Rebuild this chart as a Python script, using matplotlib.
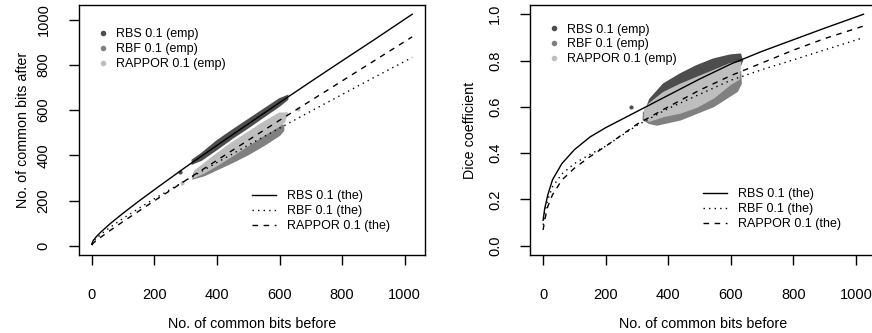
import numpy as np
from matplotlib import pyplot as plt
from matplotlib.lines import Line2D

plt.rcParams['font.family'] = ['Liberation Sans', 'DejaVu Sans']

# Colours of the three schemes (points)
col_rbs = '#4d4d4d'
col_rbf = '#808080'
col_rappor = '#bebebe'

# Theoretical curves
x_the = [0, 5, 15, 30, 60, 100, 150, 200, 300, 400, 500, 600, 700, 800, 900, 1024]

after_rbs = [8, 24, 41, 62, 99, 144, 197, 248, 348, 444, 539, 633, 726, 818, 909, 1024]
after_rbf = [3, 18, 33, 52, 83, 121, 165, 208, 289, 368, 445, 520, 595, 669, 743, 833]
after_rappor = [3, 12, 23, 39, 69, 107, 153, 199, 289, 378, 467, 555, 642, 729, 816, 924]

dice_rbs = [0.11, 0.16, 0.22, 0.285, 0.355, 0.415, 0.47, 0.51, 0.58, 0.65, 0.72,
            0.785, 0.84, 0.89, 0.94, 1.0]
dice_rbf = [0.09, 0.14, 0.20, 0.255, 0.31, 0.355, 0.395, 0.43, 0.52, 0.593, 0.654,
            0.715, 0.761, 0.803, 0.846, 0.899]
dice_rappor = [0.068, 0.11, 0.17, 0.22, 0.284, 0.335, 0.385, 0.43, 0.525, 0.60, 0.672,
               0.735, 0.79, 0.845, 0.895, 0.949]

cloud_rbs_x = [322, 350, 400, 450, 500, 550, 600, 625, 625, 600, 550, 500, 450, 400, 350, 322]
cloud_rbs_after = [378, 405, 462, 510, 556, 602, 648, 662, 648, 620, 572, 524, 478, 428, 380, 364]
cloud_rbf_x = [328, 360, 400, 450, 500, 550, 600, 612, 612, 600, 550, 500, 450, 400, 360, 325]
cloud_rbf_after = [322, 350, 385, 428, 468, 505, 538, 530, 510, 490, 445, 405, 370, 338, 312, 298]
cloud_rappor_x = [330, 360, 400, 450, 500, 550, 600, 622, 615, 600, 550, 500, 450, 400, 360, 330]
cloud_rappor_after = [330, 362, 405, 455, 500, 545, 585, 585, 548, 532, 490, 445, 400, 357, 325, 305]

dcloud_rbs_x = [326, 342, 385, 438, 491, 545, 598, 630, 636, 630, 600, 500, 400, 330]
dcloud_rbs_dice = [0.574, 0.632, 0.697, 0.74, 0.776, 0.805, 0.822, 0.826, 0.80,
                   0.78, 0.75, 0.69, 0.62, 0.57]
dcloud_rbf_x = [322, 340, 400, 450, 500, 550, 600, 630, 632, 620, 545, 438, 364, 340, 321]
dcloud_rbf_dice = [0.575, 0.585, 0.62, 0.655, 0.69, 0.72, 0.745, 0.75, 0.70,
                   0.668, 0.603, 0.545, 0.523, 0.53, 0.545]
dcloud_rappor_x = [326, 340, 385, 438, 491, 545, 598, 630, 625, 600, 545, 491, 438, 385, 340, 326]
dcloud_rappor_dice = [0.59, 0.612, 0.66, 0.695, 0.725, 0.755, 0.785, 0.79, 0.72, 0.70,
                      0.64, 0.60, 0.575, 0.56, 0.54, 0.55]

# Stray points outside the clouds
out_rbs_x = [282]
out_rbs_after = [327]
out_rbs_dice = [0.60]
out_rappor_x = [287, 614, 622, 658]
out_rappor_after = [277, 573, 582, 604]

emp_labels = ['RBS 0.1 (emp)', 'RBF 0.1 (emp)', 'RAPPOR 0.1 (emp)']
the_labels = ['RBS 0.1 (the)', 'RBF 0.1 (the)', 'RAPPOR 0.1 (the)']

'''
Figure and axes
'''

fig = plt.figure(figsize=(8.72, 3.33), dpi=100)
ax1 = fig.add_axes([79 / 872, 78 / 333, 346 / 872, 250 / 333])
ax2 = fig.add_axes([530.3 / 872, 78 / 333, 346 / 872, 250 / 333])


def draw_clouds(ax, clouds):
    for xs, ys, col in clouds:
        ax.fill(xs, ys, color=col, lw=1.5, zorder=1)


draw_clouds(ax1, [(cloud_rbs_x, cloud_rbs_after, col_rbs),
                  (cloud_rbf_x, cloud_rbf_after, col_rbf),
                  (cloud_rappor_x, cloud_rappor_after, col_rappor)])
ax1.plot(out_rbs_x, out_rbs_after, 'o', ms=3, color=col_rbs, mew=0)
ax1.plot(out_rappor_x, out_rappor_after, 'o', ms=3, color=col_rappor, mew=0)

draw_clouds(ax2, [(dcloud_rbs_x, dcloud_rbs_dice, col_rbs),
                  (dcloud_rbf_x, dcloud_rbf_dice, col_rbf),
                  (dcloud_rappor_x, dcloud_rappor_dice, col_rappor)])
ax2.plot(out_rbs_x, out_rbs_dice, 'o', ms=3, color=col_rbs, mew=0)

# Theoretical lines
for ax, ys in [(ax1, (after_rbs, after_rbf, after_rappor)),
               (ax2, (dice_rbs, dice_rbf, dice_rappor))]:
    ax.plot(x_the, ys[0], color='black', lw=1.0, zorder=3)
    ax.plot(x_the, ys[1], color='black', lw=1.0, dashes=(1, 3), zorder=3)
    ax.plot(x_the, ys[2], color='black', lw=1.0, dashes=(4, 4), zorder=3)

'''
Axes settings (R base graphics look)
'''

ax1.set_xlim(-40.96, 1064.96)
ax1.set_ylim(-40.96, 1064.96)
ax1.set_yticks([0, 200, 400, 600, 800, 1000])
ax2.set_xlim(-40.96, 1064.96)
ax2.set_ylim(-0.04, 1.04)
ax2.set_yticks([0.0, 0.2, 0.4, 0.6, 0.8, 1.0])
ax2.set_yticklabels(['0.0', '0.2', '0.4', '0.6', '0.8', '1.0'])

for ax in (ax1, ax2):
    ax.set_xticks([0, 200, 400, 600, 800, 1000])
    for s in ax.spines.values():
        s.set_linewidth(1.0)
    ax.tick_params(axis='both', direction='out', length=7, width=1.0, labelsize=10.5)
    ax.tick_params(axis='x', pad=17)
    ax.tick_params(axis='y', pad=18.5)
    plt.setp(ax.get_yticklabels(), rotation=90, ha='center', va='center')

ax1.set_xlabel('No. of common bits before', fontsize=10.3)
ax1.set_ylabel('No. of common bits after', fontsize=10.3)
ax2.set_xlabel('No. of common bits before', fontsize=10.3)
ax2.set_ylabel('Dice coefficient', fontsize=10.3)
ax1.xaxis.set_label_coords(0.5, -0.25)
ax2.xaxis.set_label_coords(0.5, -0.25)
ax1.yaxis.set_label_coords(-0.142, 0.5)
ax2.yaxis.set_label_coords(-0.154, 0.5)

'''
Legends
'''

emp_handles = [Line2D([], [], ls='', marker='o', ms=4, mew=0, color=c)
               for c in (col_rbs, col_rbf, col_rappor)]
the_handles = [Line2D([], [], color='black', lw=1.0),
               Line2D([], [], color='black', lw=1.0, dashes=(1, 3)),
               Line2D([], [], color='black', lw=1.0, dashes=(4, 4))]

for ax, top_pos, bot_pos in [(ax1, (0.0558, 0.906), (0.499, 0.258)),
                             (ax2, (0.0549, 0.926), (0.498, 0.266))]:
    leg = ax.legend(emp_handles, emp_labels, loc='upper left', bbox_to_anchor=top_pos,
                    frameon=False, fontsize=9, borderpad=0, borderaxespad=0,
                    handlelength=0.8, handletextpad=0.62, labelspacing=0.22)
    ax.add_artist(leg)
    ax.legend(the_handles, the_labels, loc='upper left', bbox_to_anchor=bot_pos,
              frameon=False, fontsize=9, borderpad=0, borderaxespad=0,
              handlelength=1.95, handletextpad=0.9, labelspacing=0.22)

fig.savefig('out.png', dpi=100)
